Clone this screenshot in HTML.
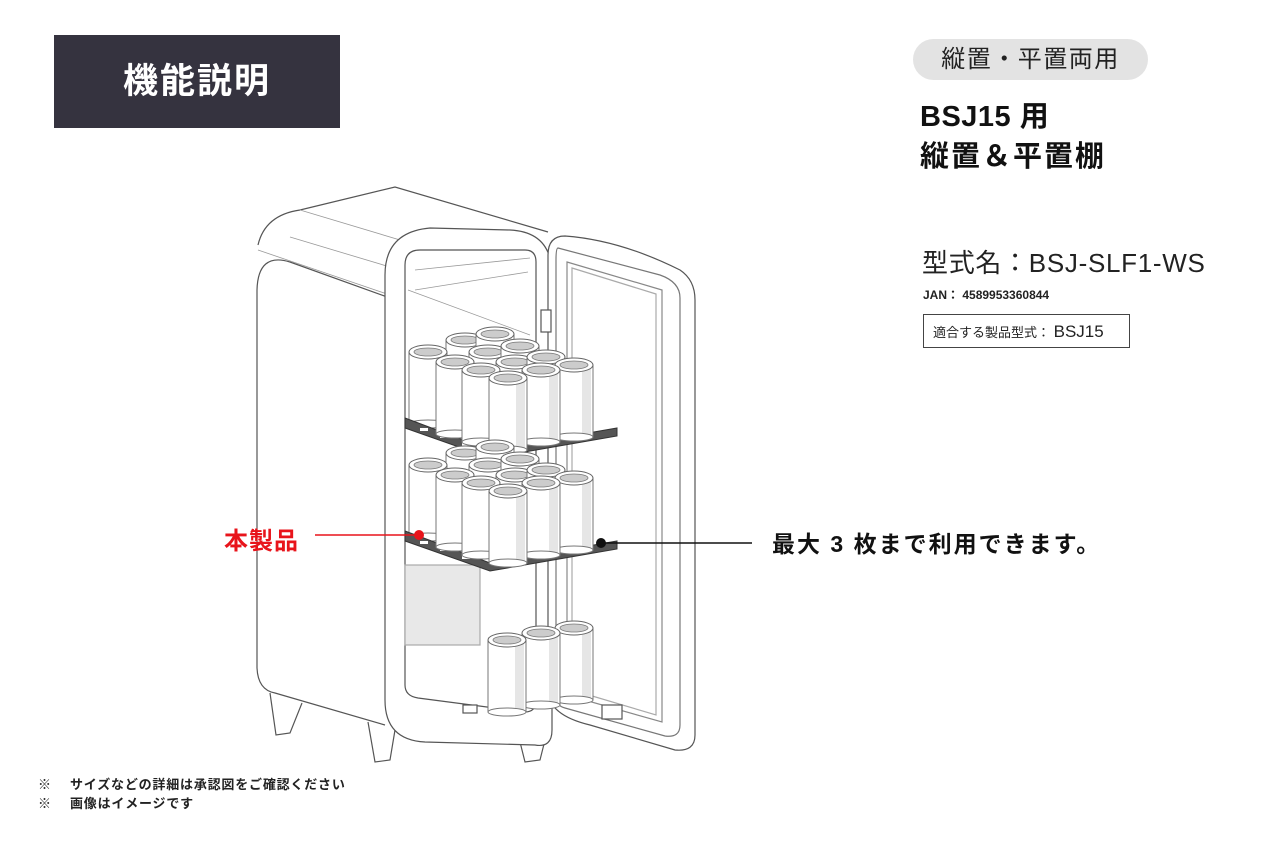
<!DOCTYPE html>
<html><head><meta charset="utf-8"><style>
html,body{margin:0;padding:0;background:#fff;}
body{width:1280px;height:853px;position:relative;overflow:hidden;font-family:"Liberation Sans","Noto Sans CJK JP",sans-serif;}
.abs{position:absolute;white-space:nowrap;z-index:2;}
svg.abs{z-index:1;}
</style></head><body>
<div class="abs" style="left:54px;top:35px;width:286px;height:93px;background:#35333f;color:#fff;font-size:35px;letter-spacing:2px;font-weight:bold;line-height:93px;text-align:center;">機能説明</div>
<div class="abs" style="left:913px;top:39px;width:235px;height:41px;background:#e3e3e3;border-radius:21px;color:#222;font-size:24px;letter-spacing:1.5px;line-height:41px;text-align:center;">縦置・平置両用</div>
<div class="abs" style="left:920px;top:97px;font-size:29px;font-weight:bold;line-height:40px;color:#111;"><span style="letter-spacing:0.5px">BSJ15 用</span><br><span style="letter-spacing:2px">縦置＆平置棚</span></div>
<div class="abs" style="left:922px;top:243px;font-size:26px;letter-spacing:0.7px;color:#222;">型式名：BSJ-SLF1-WS</div>
<div class="abs" style="left:923px;top:286px;font-size:12px;font-weight:bold;color:#222;">JAN： 4589953360844</div>
<div class="abs" style="left:923px;top:314px;width:207px;height:34px;border:1px solid #444;font-size:13px;line-height:33px;color:#222;box-sizing:border-box;padding-left:9px;">適合する製品型式： <span style="font-size:17px">BSJ15</span></div>
<div class="abs" style="left:224px;top:521px;font-size:24px;letter-spacing:1px;font-weight:bold;color:#e8141b;">本製品</div>
<div class="abs" style="left:772px;top:525px;font-size:23px;letter-spacing:2px;font-weight:bold;color:#111;">最大 3 枚まで利用できます。</div>
<div class="abs" style="left:38px;top:775px;font-size:13px;letter-spacing:0.8px;font-weight:bold;color:#222;line-height:19px;">※　 サイズなどの詳細は承認図をご確認ください<br>※　 画像はイメージです</div>

<svg class="abs" style="left:0;top:0" width="1280" height="853" viewBox="0 0 1280 853">
<defs>
<g id="can">
<rect x="-19" y="0" width="38" height="72" fill="#fff" stroke="#777" stroke-width="1"/>
<rect x="8" y="2" width="9" height="68" fill="#e6e6e6"/>
<ellipse cx="0" cy="0" rx="19" ry="7" fill="#fff" stroke="#666" stroke-width="1"/>
<ellipse cx="0" cy="0" rx="14" ry="4" fill="#ccc" stroke="#777" stroke-width="0.8"/>
<ellipse cx="0" cy="72" rx="19" ry="4" fill="#fff" stroke="#777" stroke-width="1"/>
</g>
</defs>
<g fill="none" stroke="#555" stroke-width="1.2">
<path d="M390,298 L290,262 Q258,252 257,290 L257,668 Q258,690 275,693 L385,725" fill="#fff"/>
<path d="M258,245 Q265,215 300,210 L395,187 L548,232" fill="#fff"/>
<path d="M300,210 L500,270 M290,237 L500,300 M258,250 L390,295" stroke="#999" stroke-width="0.8"/>
<path d="M270,693 L276,735 L290,733 L302,703" fill="#fff"/>
<path d="M368,722 L375,762 L390,760 L395,730" fill="#fff"/>
<path d="M520,742 L525,762 L540,760 L545,740" fill="#fff"/>
<path d="M430,228 L510,230 Q552,232 552,275 L552,730 Q552,748 535,745 L425,742 Q385,740 385,700 L385,275 Q385,232 430,228 Z" fill="#fff"/>
<path d="M420,250 L525,250 Q536,250 536,262 L536,700 Q536,712 525,712 L418,698 Q405,696 405,685 L405,265 Q405,250 420,250 Z" fill="#fff"/>
<path d="M415,270 L530,258 M415,290 L528,272 M408,290 L530,335" stroke="#999" stroke-width="0.8"/>
<rect x="405" y="565" width="75" height="80" fill="#e8e8e8" stroke="#aaa"/>
<rect x="463" y="705" width="14" height="8" fill="#fff"/>
<path d="M565,236 Q620,240 680,270 Q695,280 695,300 L695,735 Q695,752 675,750 L590,725 Q548,715 548,690 L548,255 Q548,236 565,236 Z" fill="#fff"/>
<path d="M558,248 L660,275 Q680,282 680,298 L680,725 Q680,738 665,736 L565,708 Q556,706 556,695 L556,260 Q556,248 558,248 Z" stroke="#777"/>
<path d="M567,262 L662,290 L662,722 L567,695 Z" stroke="#888"/>
<path d="M572,268 L656,294 L656,715 L572,690 Z" stroke="#aaa"/>
<rect x="602" y="705" width="20" height="14" fill="#fff"/>
<rect x="541" y="310" width="10" height="22" fill="#fff"/>
</g>
<use href="#can" x="465" y="340"/><use href="#can" x="495" y="334"/>
<use href="#can" x="488" y="352"/><use href="#can" x="520" y="346"/>
<use href="#can" x="428" y="352"/><use href="#can" x="515" y="362"/><use href="#can" x="546" y="357"/>
<polygon points="405,418 490,450 617,428 617,436 490,458 405,428" fill="#555" stroke="#333"/>
<g fill="#fff"><rect x="420" y="428" width="8" height="3"/><rect x="440" y="435" width="8" height="3"/><rect x="462" y="443" width="8" height="3"/></g>
<use href="#can" x="455" y="362"/><use href="#can" x="481" y="370"/><use href="#can" x="574" y="365"/><use href="#can" x="541" y="370"/><use href="#can" x="508" y="378"/>
<use href="#can" x="465" y="453"/><use href="#can" x="495" y="447"/>
<use href="#can" x="488" y="465"/><use href="#can" x="520" y="459"/>
<use href="#can" x="428" y="465"/><use href="#can" x="515" y="475"/><use href="#can" x="546" y="470"/>
<polygon points="405,531 490,563 617,541 617,549 490,571 405,541" fill="#555" stroke="#333"/>
<g fill="#fff"><rect x="420" y="541" width="8" height="3"/><rect x="440" y="548" width="8" height="3"/><rect x="462" y="556" width="8" height="3"/></g>
<use href="#can" x="455" y="475"/><use href="#can" x="481" y="483"/><use href="#can" x="574" y="478"/><use href="#can" x="541" y="483"/><use href="#can" x="508" y="491"/>
<use href="#can" x="574" y="628"/><use href="#can" x="541" y="633"/><use href="#can" x="507" y="640"/>
<line x1="315" y1="535" x2="418" y2="535" stroke="#e8141b" stroke-width="1.5"/>
<circle cx="419" cy="535" r="5" fill="#e8141b"/>
<line x1="600" y1="543" x2="752" y2="543" stroke="#111" stroke-width="1.5"/>
<circle cx="601" cy="543" r="5" fill="#111"/>
</svg>
</body></html>
